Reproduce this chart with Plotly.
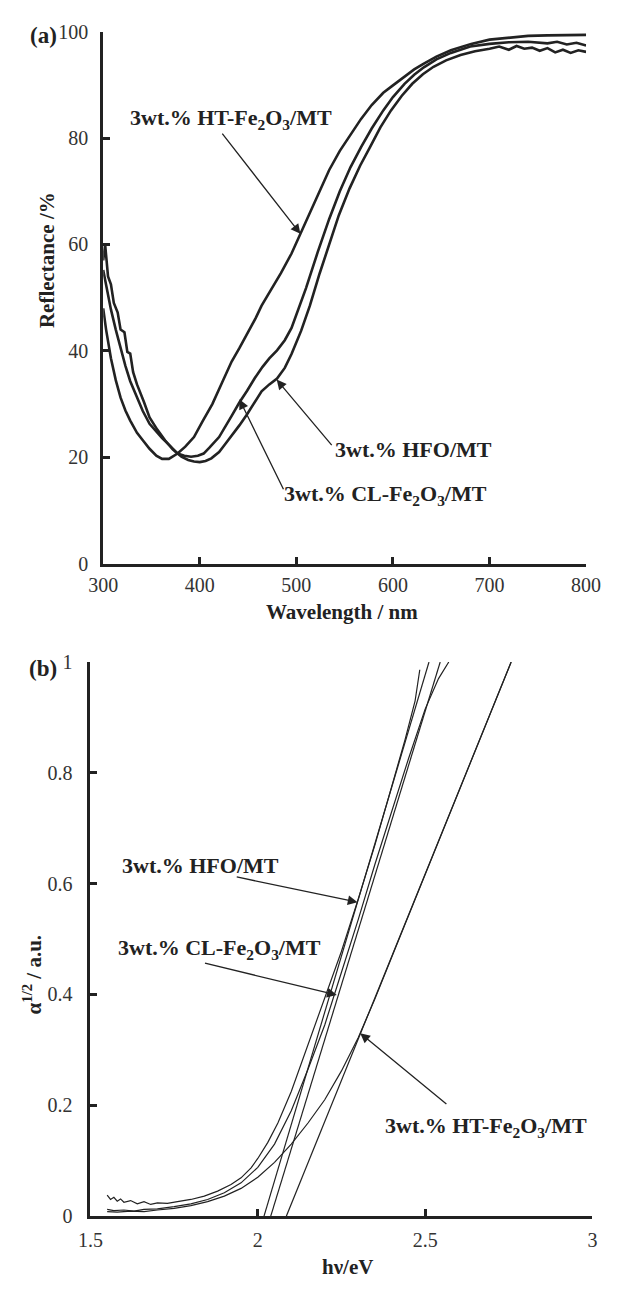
import plotly.graph_objects as go

# ---------------- Panel (a): reflectance spectra ----------------
ht_wl = [300, 303, 308, 313, 318, 323, 328, 335, 341, 348, 355, 361, 368, 377, 385, 394, 403, 413,
         423, 433, 441, 450, 458, 464, 475, 484, 495, 504, 515, 525, 534, 545, 556, 567, 578, 590,
         600, 612, 622, 632, 645, 660, 681, 700, 720, 740, 760, 780, 800]
ht_r = [48.0, 44.0, 38.6, 34.5, 31.2, 28.8, 26.9, 24.6, 23.2, 21.6, 20.3, 19.7, 19.7, 20.7, 22.0, 23.8,
        26.8, 30.0, 34.0, 38.0, 40.5, 43.5, 46.2, 48.5, 51.8, 54.6, 58.3, 62.0, 66.3, 70.4, 74.0, 77.6,
        80.7, 83.6, 86.2, 88.5, 89.9, 91.6, 92.9, 94.0, 95.3, 96.5, 97.7, 98.5, 98.9, 99.2, 99.3, 99.3, 99.4]

cl_wl = [300, 304, 308, 313, 318, 323, 328, 335, 341, 348, 355, 361, 369, 377, 384, 391, 398, 404,
         410, 420, 433, 441, 449, 457, 465, 472, 480, 488, 495, 502, 510, 522, 534, 545, 556, 567,
         578, 590, 600, 612, 622, 632, 645, 660, 680, 700, 720, 740, 760, 770, 780, 790, 800]
cl_r = [55.2, 51.5, 47.8, 44.0, 40.5, 37.2, 34.3, 31.3, 28.7, 26.3, 24.8, 23.6, 22.2, 20.7, 20.3, 20.1,
        20.3, 20.7, 21.8, 23.8, 27.8, 30.3, 32.5, 34.9, 37.0, 38.6, 40.1, 42.0, 44.3, 47.8, 51.8, 58.5,
        64.8, 70.0, 74.5, 78.3, 81.8, 85.2, 87.7, 90.2, 91.9, 93.3, 94.8, 96.0, 97.2, 97.7, 98.0, 98.1,
        97.8, 98.1, 97.6, 97.9, 97.4]

hfo_wl = [300, 302, 305, 308, 311, 315, 318, 322, 325, 328, 331, 335, 342, 348, 356, 364, 372, 381,
          388, 394, 400, 406, 412, 420, 426, 433, 441, 449, 457, 464, 472, 480, 488, 495, 505, 514,
          524, 534, 544, 555, 566, 576, 587, 598, 609, 620, 631, 642, 655, 670, 685, 700, 710, 720,
          728, 736, 744, 752, 760, 768, 776, 784, 792, 800]
hfo_r = [57.0, 60.0, 54.0, 52.5, 49.0, 47.2, 44.0, 43.5, 39.8, 39.5, 36.0, 33.7, 30.5, 27.5, 25.2, 23.2,
         21.5, 20.1, 19.5, 19.2, 19.1, 19.3, 19.8, 21.0, 22.4, 24.0, 26.0, 28.1, 30.4, 32.4, 33.7, 34.8,
         36.8, 39.4, 43.8, 48.5, 54.5, 60.2, 65.5, 70.5, 74.8, 78.2, 82.0, 85.2, 87.9, 90.2, 92.0, 93.4,
         94.6, 95.6, 96.3, 96.8, 97.2, 96.6, 97.3, 96.8, 97.0, 96.4, 96.9, 96.1, 96.6, 96.0, 96.5, 96.2]

# ---------------- Panel (b): alpha^(1/2) vs photon energy ----------------
hfo_ev = [1.55, 1.56, 1.57, 1.58, 1.59, 1.60, 1.62, 1.64, 1.66, 1.68, 1.70, 1.73, 1.76, 1.80, 1.84,
          1.88, 1.92, 1.95, 1.98, 2.00, 2.03, 2.06, 2.10, 2.15, 2.20, 2.25, 2.30, 2.35, 2.40, 2.44,
          2.47, 2.484]
hfo_a = [0.038, 0.030, 0.034, 0.027, 0.031, 0.025, 0.028, 0.022, 0.026, 0.021, 0.024, 0.023, 0.026,
         0.030, 0.036, 0.045, 0.057, 0.069, 0.087, 0.104, 0.133, 0.168, 0.225, 0.310, 0.392, 0.478,
         0.572, 0.670, 0.775, 0.860, 0.930, 0.986]

cl_ev = [1.55, 1.57, 1.60, 1.63, 1.66, 1.70, 1.75, 1.80, 1.85, 1.90, 1.95, 2.00, 2.05, 2.10, 2.15,
         2.20, 2.25, 2.30, 2.35, 2.40, 2.45, 2.50, 2.54, 2.5706]
cl_a = [0.012, 0.010, 0.011, 0.009, 0.012, 0.013, 0.017, 0.022, 0.030, 0.042, 0.060, 0.088, 0.130,
        0.190, 0.265, 0.345, 0.440, 0.535, 0.635, 0.730, 0.825, 0.915, 0.970, 1.000]

ht_ev = [1.55, 1.58, 1.62, 1.66, 1.70, 1.75, 1.80, 1.85, 1.90, 1.95, 2.00, 2.05, 2.10, 2.15, 2.20,
         2.25, 2.30, 2.35, 2.40, 2.45, 2.50, 2.55, 2.60, 2.65, 2.70, 2.757]
ht_a = [0.008, 0.007, 0.009, 0.008, 0.011, 0.014, 0.019, 0.026, 0.036, 0.050, 0.070, 0.097, 0.130,
        0.168, 0.210, 0.262, 0.322, 0.392, 0.467, 0.542, 0.617, 0.692, 0.766, 0.841, 0.915, 1.000]

# tangent (band-gap extrapolation) lines: [start energy, end energy], [0, 1]
hfo_tan_ev = [2.0186, 2.5115]
cl_tan_ev = [2.0387, 2.545]
ht_tan_ev = [2.0855, 2.757]
tan_a = [0, 1]

xa_ticks = [300, 400, 500, 600, 700, 800]
ya_ticks = [0, 20, 40, 60, 80, 100]
xb_ticks = [1.5, 2, 2.5, 3]
xb_labels = ["1.5", "2", "2.5", "3"]
yb_ticks = [0, 0.2, 0.4, 0.6, 0.8, 1]
yb_labels = ["0", "0.2", "0.4", "0.6", "0.8", "1"]

INK = "#222222"
SERIF = "Liberation Serif"
W, H = 617, 1290

fig = go.Figure()
for xs, ys in [(ht_wl, ht_r), (cl_wl, cl_r), (hfo_wl, hfo_r)]:
    fig.add_trace(go.Scatter(x=xs, y=ys, mode="lines", line=dict(color=INK, width=2.6),
                             xaxis="x", yaxis="y", showlegend=False, hoverinfo="skip"))
for xs, ys in [(hfo_ev, hfo_a), (cl_ev, cl_a), (ht_ev, ht_a),
               (hfo_tan_ev, tan_a), (cl_tan_ev, tan_a), (ht_tan_ev, tan_a)]:
    fig.add_trace(go.Scatter(x=xs, y=ys, mode="lines", line=dict(color=INK, width=1.2),
                             xaxis="x2", yaxis="y2", showlegend=False, hoverinfo="skip"))

def px(x):
    return x / W

def py(y):
    return 1 - y / H

axis_common = dict(showgrid=False, zeroline=False, showline=True, linecolor=INK, linewidth=3,
                   ticks="inside", ticklen=7, tickwidth=3, tickcolor=INK, mirror=False,
                   tickfont=dict(family=SERIF, size=20, color="#333333"))

fig.update_layout(
    width=W, height=H, margin=dict(l=0, r=0, t=0, b=0),
    paper_bgcolor="white", plot_bgcolor="white", showlegend=False,
    xaxis=dict(domain=[px(92.7), px(600.3)], range=[300, 800], tickvals=xa_ticks,
               anchor="y", ticklabelstandoff=1, **axis_common),
    yaxis=dict(domain=[py(562.3), py(21)], range=[0, 100], tickvals=ya_ticks,
               anchor="x", ticklabelstandoff=8, **axis_common),
    xaxis2=dict(domain=[px(79.3), px(607)], range=[1.5, 3], tickvals=xb_ticks, ticktext=xb_labels,
                anchor="y2", ticklabelstandoff=4, **axis_common),
    yaxis2=dict(domain=[py(1226), py(662.3)], range=[0, 1], tickvals=yb_ticks, ticktext=yb_labels,
                anchor="x2", ticklabelstandoff=11, **axis_common),
)

anns = []

def label(text, x, y, xref, yref, size=22, angle=0):
    anns.append(dict(text=text, x=x, y=y, xref=xref, yref=yref, showarrow=False,
                     xanchor="center", yanchor="middle", textangle=angle,
                     font=dict(family=SERIF, size=size, color=INK)))

def arrow(hx, hy, tx, ty, xr, yr):
    anns.append(dict(text="", x=hx, y=hy, ax=tx, ay=ty, xref=xr, yref=yr, axref=xr, ayref=yr,
                     showarrow=True, arrowhead=2, arrowsize=1.5, arrowwidth=1.3,
                     arrowcolor=INK, standoff=0, startstandoff=0))

# panel (a) labels
label("<b>3wt.% HT-Fe<sub>2</sub>O<sub>3</sub>/MT</b>", 432.3, 83.6, "x", "y")
arrow(504.2, 62.0, 422.1, 81.1, "x", "y")
label("<b>3wt.% HFO/MT</b>", 620.9, 21.5, "x", "y")
arrow(479.6, 34.6, 537.9, 22.0, "x", "y")
label("<b>3wt.% CL-Fe<sub>2</sub>O<sub>3</sub>/MT</b>", 592.8, 13.0, "x", "y")
arrow(441.0, 30.9, 487.4, 13.7, "x", "y")

# panel (b) labels
label("<b>3wt.% HFO/MT</b>", 1.8289, 0.6328, "x2", "y2")
arrow(2.298, 0.5664, 1.9326, 0.6126, "x2", "y2")
label("<b>3wt.% CL-Fe<sub>2</sub>O<sub>3</sub>/MT</b>", 1.8852, 0.4825, "x2", "y2")
arrow(2.236, 0.399, 1.8377, 0.457, "x2", "y2")
label("<b>3wt.% HT-Fe<sub>2</sub>O<sub>3</sub>/MT</b>", 2.6825, 0.1614, "x2", "y2")
arrow(2.306, 0.330, 2.568, 0.200, "x2", "y2")

# axis titles and panel letters
label("<b>Reflectance /%</b>", px(33), py(253), "paper", "paper", size=21, angle=-90)
label("<b>Wavelength / nm</b>", px(344), py(611), "paper", "paper", size=21)
label("<b>(a)</b>", px(30), py(25), "paper", "paper", size=23)
label("<b>α<sup>1/2</sup> / a.u.</b>", px(18), py(980), "paper", "paper", size=21, angle=-90)
label("<b>hν/eV</b>", px(350), py(1278), "paper", "paper", size=21)
label("<b>(b)</b>", px(29), py(669), "paper", "paper", size=23)

fig.update_layout(annotations=anns)
fig.write_html("out.html")
